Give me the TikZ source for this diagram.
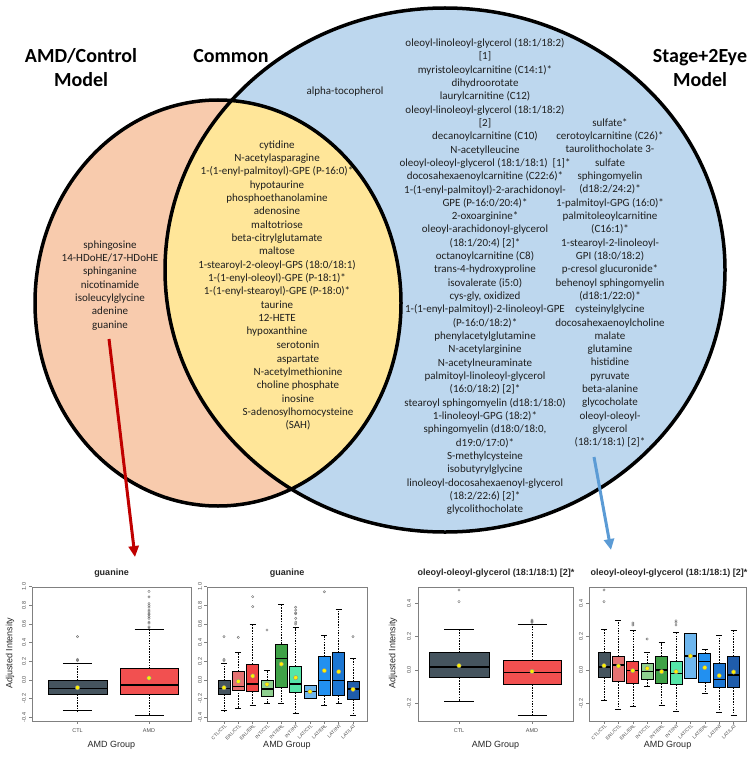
\documentclass[tikz,border=0pt]{standalone}
\usepackage{fontspec}
\setmainfont{Carlito}
\newfontfamily\plotfont{Liberation Sans}
\usetikzlibrary{arrows.meta}

% Venn colours
\definecolor{amdfill}{HTML}{F8CBAD}
\definecolor{comfill}{HTML}{FFE699}
\definecolor{stgfill}{HTML}{BDD7EE}
\definecolor{amdarrow}{HTML}{C00000}
\definecolor{stgarrow}{HTML}{5B9BD5}
% boxplot colours
\definecolor{grpCC}{HTML}{45545E}
\definecolor{grpAMD}{HTML}{F25050}
\definecolor{grpEC}{HTML}{E47272}
\definecolor{grpEE}{HTML}{F04444}
\definecolor{grpIC}{HTML}{8FD08F}
\definecolor{grpIE}{HTML}{3FA247}
\definecolor{grpII}{HTML}{55E6A8}
\definecolor{grpLC}{HTML}{6DB6EE}
\definecolor{grpLE}{HTML}{2290F0}
\definecolor{grpLI}{HTML}{1C76D2}
\definecolor{grpLL}{HTML}{1F5CAA}

\newcommand{\plotorg}{680}
\newcommand{\plotscl}{93.3}
% one box: x, half width, lower hinge, upper hinge, median, mean, lower whisker, upper whisker, fill
\newcommand{\drawbox}[9]{%
  \draw[whisk] (#1,{\plotorg-\plotscl*(#4)}) -- (#1,{\plotorg-\plotscl*(#8)});
  \draw[whisk] (#1,{\plotorg-\plotscl*(#3)}) -- (#1,{\plotorg-\plotscl*(#7)});
  \draw[boxline] ({#1-#2/2},{\plotorg-\plotscl*(#8)}) -- ({#1+#2/2},{\plotorg-\plotscl*(#8)});
  \draw[boxline] ({#1-#2/2},{\plotorg-\plotscl*(#7)}) -- ({#1+#2/2},{\plotorg-\plotscl*(#7)});
  \draw[boxline, fill=#9] ({#1-#2},{\plotorg-\plotscl*(#3)}) rectangle ({#1+#2},{\plotorg-\plotscl*(#4)});
  \draw[boxline, line width=1.5pt] ({#1-#2},{\plotorg-\plotscl*(#5)}) -- ({#1+#2},{\plotorg-\plotscl*(#5)});
  \draw[meanpt] (#1,{\plotorg-\plotscl*(#6)}) circle (2.2);
}

\begin{document}
\begin{tikzpicture}[x=1pt, y=-1pt]
    \tikzset{
        vtitle/.style = {font=\fontsize{20}{24}\selectfont\bfseries, align=center, anchor=base, inner sep=0pt},
        metab/.style = {font=\fontsize{11}{13.32}\selectfont, align=center, anchor=base, inner sep=0pt, text=black!88},
        venn/.style = {line width=3.5pt},
        pointer/.style = {line width=3pt, -{Triangle[length=11pt, width=10pt]}},
        ptitle/.style = {font=\plotfont\fontsize{9}{10}\selectfont\bfseries, inner sep=0pt, text=black!85},
        axlab/.style = {font=\plotfont\fontsize{9}{10}\selectfont, inner sep=0pt, text=black!85},
        ticklab/.style = {font=\plotfont\fontsize{5.5}{6}\selectfont, inner sep=0pt, text=black!70},
        grplab/.style = {font=\plotfont\fontsize{4.8}{5}\selectfont, inner sep=0pt, text=black!70, rotate=45, anchor=east},
        plotframe/.style = {draw=black!50, line width=0.6pt},
        whisk/.style = {draw=black, line width=0.5pt, dash pattern=on 1.5pt off 1.2pt},
        boxline/.style = {draw=black, line width=0.7pt},
        meanpt/.style = {fill=yellow, draw=black!45, line width=0.4pt},
        outl/.style = {draw=black!55, line width=0.4pt}
    }
    \useasboundingbox (0,0) rectangle (752,757);

    % Venn circles
    \fill[amdfill] (218,303) ellipse [x radius=183, y radius=203];
    \fill[stgfill] (445,270) ellipse [x radius=280, y radius=262];
    \begin{scope}
        \clip (218,303) ellipse [x radius=183, y radius=203];
        \fill[comfill] (445,270) ellipse [x radius=280, y radius=262];
    \end{scope}
    \draw[venn] (218,303) ellipse [x radius=183, y radius=203];
    \draw[venn] (445,270) ellipse [x radius=280, y radius=262];

    % Titles (base = last line)
    \node[vtitle] (amdTitle) at (81,87) {AMD/Control\\Model};
    \node[vtitle] (comTitle) at (231,63) {Common};
    \node[vtitle] (stgTitle) at (700,87) {Stage+2Eye\\Model};

    % AMD/Control only
    \node[metab] (amdList) at (110,328.2) {sphingosine\\14-HDoHE/17-HDoHE\\sphinganine\\nicotinamide\\isoleucylglycine\\adenine\\guanine};

    % Common
    \node[metab] (comListA) at (277,334.8) {cytidine\\N-acetylasparagine\\1-(1-enyl-palmitoyl)-GPE (P-16:0)*\\hypotaurine\\phosphoethanolamine\\adenosine\\maltotriose\\beta-citrylglutamate\\maltose\\1-stearoyl-2-oleoyl-GPS (18:0/18:1)\\1-(1-enyl-oleoyl)-GPE (P-18:1)*\\1-(1-enyl-stearoyl)-GPE (P-18:0)*\\taurine\\12-HETE\\hypoxanthine};
    \node[metab] (comListB) at (298,428.7) {serotonin\\aspartate\\N-acetylmethionine\\choline phosphate\\inosine\\S-adenosylhomocysteine\\(SAH)};

    % Stage+2Eye only
    \node[metab] (stgAlpha) at (345,94.3) {alpha-tocopherol};
    \node[metab] (stgListA) at (485,512.7) {oleoyl-linoleoyl-glycerol (18:1/18:2)\\{[1]}\\myristoleoylcarnitine (C14:1)*\\dihydroorotate\\laurylcarnitine (C12)\\oleoyl-linoleoyl-glycerol (18:1/18:2)\\{[2]}\\decanoylcarnitine (C10)\\N-acetylleucine\\oleoyl-oleoyl-glycerol (18:1/18:1)~~[1]*\\docosahexaenoylcarnitine (C22:6)*\\1-(1-enyl-palmitoyl)-2-arachidonoyl-\\GPE (P-16:0/20:4)*\\2-oxoarginine*\\oleoyl-arachidonoyl-glycerol\\(18:1/20:4) [2]*\\octanoylcarnitine (C8)\\trans-4-hydroxyproline\\isovalerate (i5:0)\\cys-gly, oxidized\\1-(1-enyl-palmitoyl)-2-linoleoyl-GPE\\(P-16:0/18:2)*\\phenylacetylglutamine\\N-acetylarginine\\N-acetylneuraminate\\palmitoyl-linoleoyl-glycerol\\(16:0/18:2) [2]*\\stearoyl sphingomyelin (d18:1/18:0)\\1-linoleoyl-GPG (18:2)*\\sphingomyelin (d18:0/18:0,\\d19:0/17:0)*\\S-methylcysteine\\isobutyrylglycine\\linoleoyl-docosahexaenoyl-glycerol\\(18:2/22:6) [2]*\\glycolithocholate};
    \node[metab] (stgListB) at (610,445.9) {sulfate*\\cerotoylcarnitine (C26)*\\taurolithocholate 3-\\sulfate\\sphingomyelin\\(d18:2/24:2)*\\1-palmitoyl-GPG (16:0)*\\palmitoleoylcarnitine\\(C16:1)*\\1-stearoyl-2-linoleoyl-\\GPI (18:0/18:2)\\p-cresol glucuronide*\\behenoyl sphingomyelin\\(d18:1/22:0)*\\cysteinylglycine\\docosahexaenoylcholine\\malate\\glutamine\\histidine\\pyruvate\\beta-alanine\\glycocholate\\oleoyl-oleoyl-\\glycerol\\(18:1/18:1) [2]*};

    % Arrows to the plots
    \coordinate (guaFrom) at (109,339);
    \coordinate (guaTo) at (135,557);
    \coordinate (oogFrom) at (594,457);
    \coordinate (oogTo) at (611,550);
    \draw[pointer, amdarrow] (guaFrom) -- (guaTo);
    \draw[pointer, stgarrow] (oogFrom) -- (oogTo);

    % Plot 1: guanine, CTL vs AMD
    \renewcommand{\plotorg}{680}\renewcommand{\plotscl}{93.3}
    \node[ptitle] (g1title) at (111.5,573) {guanine};
    \draw[plotframe] (32,587) rectangle (191,721);
    \foreach \v [count=\i] in {-0.4,-0.2,0.0,0.2,0.4,0.6,0.8,1.0} {
        \draw[plotframe] (32,{\plotorg-\plotscl*(\v)}) -- ++(-3,0);
        \node[ticklab, rotate=90] (g1y\i) at (24,{\plotorg-\plotscl*(\v)}) {\v};
    }
    \foreach \xc/\g [count=\i] in {77.5/CTL, 149/AMD} {
        \draw[plotframe] (\xc,721) -- ++(0,3);
        \node[ticklab] (g1x\i) at (\xc,731) {\g};
    }
    \node[axlab, rotate=90] (g1ylab) at (10,653) {Adjusted Intensity};
    \node[axlab] (g1xlab) at (111.5,745) {AMD Group};
    \drawbox{77.5}{29.5}{-0.154}{-0.007}{-0.089}{-0.082}{-0.329}{0.179}{grpCC}
    \drawbox{149}{29}{-0.154}{0.121}{-0.054}{0.021}{-0.379}{0.543}{grpAMD}
    \foreach \xc/\v in {77.5/0.207, 77.5/0.221, 77.5/0.464, 149/0.56, 149/0.57, 149/0.61, 149/0.62, 149/0.66, 149/0.68, 149/0.70, 149/0.71, 149/0.73, 149/0.75, 149/0.78, 149/0.80, 149/0.82, 149/0.89, 149/0.95}
        \draw[outl] (\xc,{\plotorg-\plotscl*(\v)}) circle (1.2);

    % Plot 2: guanine, by eye group
    \node[ptitle] (g2title) at (287,573) {guanine};
    \draw[plotframe] (207,587) rectangle (367,721);
    \foreach \v [count=\i] in {-0.4,-0.2,0.0,0.2,0.4,0.6,0.8,1.0} {
        \draw[plotframe] (207,{\plotorg-\plotscl*(\v)}) -- ++(-3,0);
        \node[ticklab, rotate=90] (g2y\i) at (200,{\plotorg-\plotscl*(\v)}) {\v};
    }
    \foreach \ga/\gb [count=\i from 0] in {CTL/CTL, ERL/CTL, ERL/ERL, INT/CTL, INT/ERL, INT/INT, LAT/CTL, LAT/ERL, LAT/INT, LAT/LAT} {
        \draw[plotframe] ({224+14.33*\i},721) -- ++(0,3);
        \node[grplab] (g2x\i) at ({226+14.33*\i},725) {\ga/\gb};
    }
    \node[axlab] (g2xlab) at (287,745) {AMD Group};
    \foreach \xc/\ql/\qh/\md/\mn/\wl/\wh/\col in {
        224/-0.154/-0.007/-0.089/-0.082/-0.329/0.179/grpCC,
        238.3/-0.107/0.096/-0.071/-0.014/-0.304/0.293/grpEC,
        252.7/-0.125/0.171/-0.043/0.043/-0.268/0.6/grpEE,
        267/-0.171/-0.007/-0.096/-0.046/-0.25/0.107/grpIC,
        281.3/-0.079/0.386/0.232/0.171/-0.25/0.811/grpIE,
        295.7/-0.136/0.15/-0.043/0.025/-0.357/0.561/grpII,
        310/-0.2/-0.054/-0.125/-0.125/-0.2/-0.054/grpLC,
        324.3/-0.168/0.25/-0.007/0.1/-0.275/0.482/grpLE,
        338.7/-0.168/0.293/-0.007/0.089/-0.25/0.757/grpLI,
        353/-0.204/-0.018/-0.096/-0.1/-0.379/0.232/grpLL}
        \drawbox{\xc}{6}{\ql}{\qh}{\md}{\mn}{\wl}{\wh}{\col};
    \foreach \xc/\v in {224/0.207, 224/0.221, 224/0.464, 238.3/0.457, 252.7/0.786, 252.7/0.893, 267/0.536, 295.7/0.6, 295.7/0.62, 295.7/0.66, 295.7/0.71, 295.7/0.72, 295.7/0.75, 295.7/0.78, 324.3/0.946, 353/0.464}
        \draw[outl] (\xc,{\plotorg-\plotscl*(\v)}) circle (1.2);

    % Plot 3: oleoyl-oleoyl-glycerol, CTL vs AMD
    \renewcommand{\plotorg}{670}\renewcommand{\plotscl}{166.7}
    \node[ptitle] (o1title) at (496,573) {oleoyl-oleoyl-glycerol (18:1/18:1) [2]*};
    \draw[plotframe] (418,587) rectangle (573,721);
    \foreach \v [count=\i] in {-0.2,0.0,0.2,0.4} {
        \draw[plotframe] (418,{\plotorg-\plotscl*(\v)}) -- ++(-3,0);
        \node[ticklab, rotate=90] (o1y\i) at (409,{\plotorg-\plotscl*(\v)}) {\v};
    }
    \foreach \xc/\g [count=\i] in {459/CTL, 532/AMD} {
        \draw[plotframe] (\xc,721) -- ++(0,3);
        \node[ticklab] (o1x\i) at (\xc,731) {\g};
    }
    \node[axlab, rotate=90] (o1ylab) at (393,653) {Adjusted Intensity};
    \node[axlab] (o1xlab) at (495.5,745) {AMD Group};
    \drawbox{459}{30}{-0.046}{0.104}{0.018}{0.026}{-0.186}{0.244}{grpCC}
    \drawbox{532}{29}{-0.086}{0.06}{-0.016}{-0.008}{-0.272}{0.274}{grpAMD}
    \foreach \xc/\v in {459/0.41, 459/0.48, 532/0.285, 532/0.29, 532/0.295, 532/0.3}
        \draw[outl] (\xc,{\plotorg-\plotscl*(\v)}) circle (1.2);

    % Plot 4: oleoyl-oleoyl-glycerol, by eye group
    \node[ptitle] (o2title) at (669,573) {oleoyl-oleoyl-glycerol (18:1/18:1) [2]*};
    \draw[plotframe] (589,587) rectangle (746,721);
    \foreach \v [count=\i] in {-0.2,0.0,0.2,0.4} {
        \draw[plotframe] (589,{\plotorg-\plotscl*(\v)}) -- ++(-3,0);
        \node[ticklab, rotate=90] (o2y\i) at (581,{\plotorg-\plotscl*(\v)}) {\v};
    }
    \foreach \ga/\gb [count=\i from 0] in {CTL/CTL, ERL/CTL, ERL/ERL, INT/CTL, INT/ERL, INT/INT, LAT/CTL, LAT/ERL, LAT/INT, LAT/LAT} {
        \draw[plotframe] ({604+14.4*\i},721) -- ++(0,3);
        \node[grplab] (o2x\i) at ({606+14.4*\i},725) {\ga/\gb};
    }
    \node[axlab] (o2xlab) at (667.5,745) {AMD Group};
    \foreach \xc/\ql/\qh/\md/\mn/\wl/\wh/\col in {
        604/-0.045/0.105/0.018/0.026/-0.185/0.245/grpCC,
        618.4/-0.07/0.084/0.03/0.024/-0.234/0.298/grpEC,
        632.8/-0.082/0.052/-0.002/-0.004/-0.216/0.236/grpEE,
        647.2/-0.056/0.04/-0.01/0.01/-0.096/0.106/grpIC,
        661.6/-0.08/0.08/0.0/-0.01/-0.21/0.164/grpIE,
        676/-0.086/0.052/-0.02/-0.01/-0.246/0.224/grpII,
        690.4/-0.05/0.22/0.084/0.084/-0.05/0.22/grpLC,
        704.8/-0.076/0.1/0.052/0.014/-0.14/0.124/grpLE,
        719.2/-0.104/0.04/-0.056/-0.034/-0.254/0.21/grpLI,
        733.6/-0.106/0.084/-0.03/-0.012/-0.272/0.24/grpLL}
        \drawbox{\xc}{6}{\ql}{\qh}{\md}{\mn}{\wl}{\wh}{\col};
    \foreach \xc/\v in {604/0.41, 604/0.48, 632.8/0.27, 632.8/0.282, 647.2/0.186, 676/0.27, 676/0.285, 676/0.295}
        \draw[outl] (\xc,{\plotorg-\plotscl*(\v)}) circle (1.2);
\end{tikzpicture}
\end{document}
